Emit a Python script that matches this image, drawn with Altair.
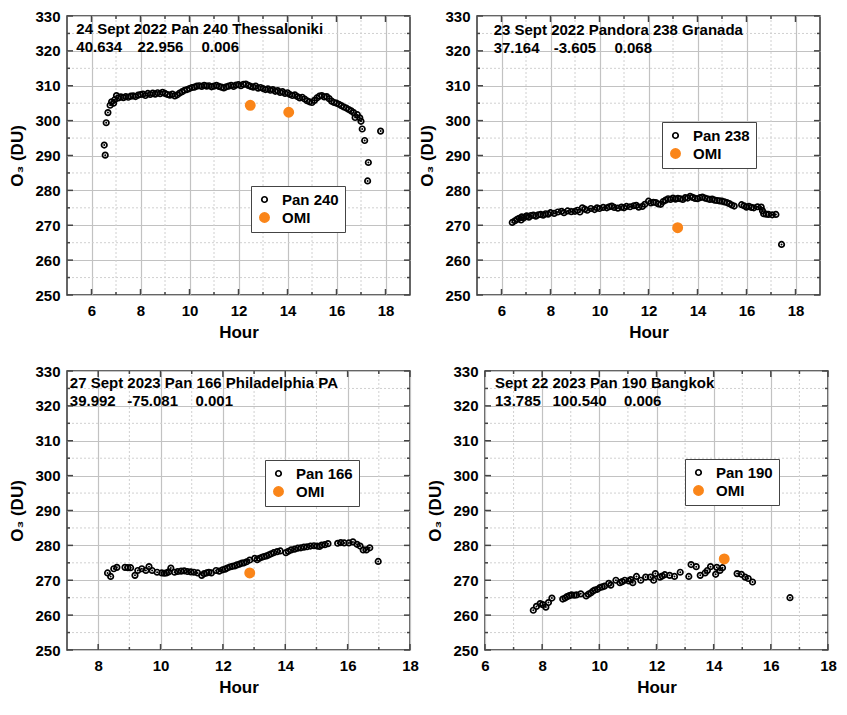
import altair as alt
import pandas as pd

FONT = "Liberation Sans, Arial, sans-serif"
ORANGE = "#fa8519"

# ---------------- data ----------------
y_major = [250, 260, 270, 280, 290, 300, 310, 320, 330]
y_minor = [255, 265, 275, 285, 295, 305, 315, 325]

# Panel 1: Thessaloniki
p1_title = "24 Sept 2022  Pan 240 Thessaloniki"
p1_info = ["40.634", "22.956", "0.006"]
p1_label = "Pan 240"
p1_hour = [6.52, 6.56, 6.60, 6.67, 6.76, 6.82, 6.90, 6.95, 7.02, 7.10, 7.20, 7.30, 7.40, 7.50,
           7.60, 7.70, 7.80, 7.90, 8.00, 8.10, 8.20, 8.30, 8.40, 8.50, 8.60, 8.70, 8.80, 8.90,
           9.00, 9.10, 9.20, 9.30, 9.40, 9.50, 9.60, 9.70, 9.80, 9.90, 10.00, 10.10, 10.20,
           10.30, 10.40, 10.50, 10.60, 10.70, 10.80, 10.90, 11.00, 11.10, 11.20, 11.30, 11.40,
           11.50, 11.60, 11.70, 11.80, 11.90, 12.00, 12.10, 12.20, 12.30, 12.40, 12.50, 12.60,
           12.70, 12.80, 12.90, 13.00, 13.10, 13.20, 13.30, 13.40, 13.50, 13.60, 13.70, 13.80,
           13.90, 14.00, 14.10, 14.20, 14.30, 14.40, 14.50, 14.60, 14.70, 14.80, 14.90, 15.00,
           15.10, 15.20, 15.30, 15.40, 15.50, 15.60, 15.70, 15.80, 15.90, 16.00, 16.10, 16.20,
           16.30, 16.40, 16.50, 16.60, 16.70, 16.76, 16.85, 16.95, 17.00, 17.05, 17.15, 17.27,
           17.30, 17.80]
p1_o3 = [293.0, 290.1, 299.4, 302.3, 304.4, 305.4, 305.0, 306.0, 307.2, 306.5, 306.8, 306.6,
         306.9, 306.7, 307.0, 307.1, 306.9, 307.3, 307.5, 307.6, 307.2, 307.8, 307.5, 307.9,
         307.6, 308.0, 307.7, 308.1, 307.8, 307.5, 307.3, 307.6, 307.1, 307.4, 307.9, 308.3,
         308.7, 308.9, 309.2, 309.5, 309.6, 309.9, 310.0, 309.8, 310.1, 309.9, 310.0, 309.7,
         309.9, 310.1, 309.8, 309.6, 309.4, 309.7, 309.9, 310.1, 309.8, 310.2, 310.3, 310.0,
         310.4, 310.5, 310.1, 309.8, 309.6, 309.9, 309.3, 309.5, 309.2, 308.9, 309.1, 308.7,
         308.9, 308.4, 308.6, 308.1, 308.3, 307.8, 308.0, 307.5, 307.2, 307.4, 306.9, 306.5,
         306.7, 306.2, 305.7, 305.4, 305.2, 305.8, 306.5, 307.0, 307.2, 306.8, 306.9, 306.3,
         305.6, 305.2, 305.0, 304.7, 304.3, 303.9, 303.6, 303.2, 302.8, 302.3, 300.9, 301.7,
         300.8, 299.8, 297.6, 294.3, 282.7, 288.0, 297.0]
p1_omi_hour = [12.48, 14.05]
p1_omi_o3 = [304.4, 302.4]

# Panel 2: Granada
p2_title = "23 Sept 2022 Pandora 238 Granada"
p2_info = ["37.164", "-3.605", "0.068"]
p2_label = "Pan 238"
p2_hour = [6.44, 6.55, 6.64, 6.72, 6.80, 6.83, 6.90, 7.00, 7.03, 7.12, 7.20, 7.30, 7.40, 7.50,
           7.60, 7.70, 7.80, 7.90, 8.00, 8.15, 8.30, 8.45, 8.55, 8.70, 8.85, 9.00, 9.10, 9.20,
           9.30, 9.40, 9.50, 9.65, 9.80, 9.90, 10.00, 10.15, 10.30, 10.40, 10.50, 10.60, 10.75,
           10.90, 11.00, 11.10, 11.25, 11.40, 11.50, 11.60, 11.75, 11.85, 12.00, 12.10, 12.20,
           12.30, 12.40, 12.50, 12.60, 12.70, 12.80, 12.90, 13.00, 13.10, 13.20, 13.30, 13.40,
           13.50, 13.60, 13.70, 13.80, 13.90, 14.00, 14.10, 14.20, 14.30, 14.40, 14.50, 14.60,
           14.70, 14.80, 14.90, 15.00, 15.10, 15.20, 15.30, 15.40, 15.50, 15.80, 15.90, 16.00,
           16.10, 16.20, 16.30, 16.45, 16.60, 16.65, 16.70, 16.80, 16.90, 17.05, 17.20, 17.43]
p2_o3 = [270.8, 271.3, 271.7, 272.0, 271.5, 272.4, 272.1, 272.5, 272.7, 272.3, 272.8, 272.9,
         272.6, 273.0, 273.1, 272.9, 273.3, 273.2, 273.6, 273.4, 273.8, 274.0, 273.6, 274.1,
         273.9, 274.0, 274.3, 273.8, 275.0, 274.6, 274.3, 274.8, 274.5, 275.0, 274.8, 275.1,
         275.0, 275.3, 275.5, 275.1, 274.9, 275.2, 275.0, 275.4, 275.3, 275.6, 275.7, 275.2,
         275.4, 276.0, 276.9, 276.4, 276.6, 276.5, 276.1, 276.0, 276.8, 277.2, 277.6, 277.4,
         277.8, 277.5, 277.7, 277.6, 277.4, 277.9, 277.8, 278.3, 278.0, 277.7, 277.6, 277.9,
         278.1, 277.8, 277.6, 277.4, 277.5, 277.2, 277.1, 277.0, 276.9, 276.7, 276.5, 276.2,
         275.8, 275.5, 275.9, 275.6, 275.2, 275.4, 275.1, 275.0, 275.3, 275.2, 274.2, 273.3,
         273.2, 273.1, 273.0, 273.1, 264.5]
p2_omi_hour = [13.19]
p2_omi_o3 = [269.3]

# Panel 3: Philadelphia
p3_title = "27 Sept 2023 Pan 166 Philadelphia PA"
p3_info = ["39.992", "-75.081", "0.001"]
p3_label = "Pan 166"
p3_hour = [8.30, 8.40, 8.50, 8.60, 8.86, 8.95, 9.04, 9.18, 9.27, 9.40, 9.53, 9.63, 9.73, 9.89,
           10.04, 10.12, 10.19, 10.26, 10.33, 10.45, 10.55, 10.66, 10.76, 10.86, 10.97, 11.07,
           11.19, 11.32, 11.40, 11.48, 11.55, 11.63, 11.78, 11.88, 11.99, 12.07, 12.14, 12.22,
           12.30, 12.38, 12.45, 12.53, 12.61, 12.68, 12.76, 12.86, 13.02, 13.10, 13.17, 13.25,
           13.32, 13.40, 13.48, 13.55, 13.63, 13.74, 13.84, 14.02, 14.10, 14.19, 14.30, 14.40,
           14.50, 14.60, 14.70, 14.81, 14.92, 15.02, 15.10, 15.17, 15.27, 15.37, 15.68, 15.78,
           15.89, 16.04, 16.17, 16.30, 16.40, 16.50, 16.60, 16.71, 16.98]
p3_o3 = [272.1, 271.1, 273.3, 273.7, 273.7, 273.6, 273.6, 271.4, 272.8, 273.3, 272.8, 273.9,
         272.8, 272.3, 272.1, 272.0, 272.1, 272.4, 273.5, 272.3, 272.5, 272.6, 272.7, 272.5,
         272.4, 272.3, 272.1, 271.4, 271.9, 272.1, 272.3, 272.1, 272.8, 272.6, 273.0, 273.2,
         273.5, 273.8, 274.0, 274.1, 274.4, 274.6, 274.9, 275.0, 275.3, 275.8, 276.3, 275.9,
         276.3, 276.6, 276.8, 277.0, 277.3, 277.6, 277.9, 278.2, 278.4, 277.9, 278.3, 278.7,
         278.9, 279.2, 279.3, 279.5, 279.6, 279.8, 279.9, 279.8, 279.7, 280.1, 280.2, 280.5,
         280.6, 280.8, 280.7, 280.7, 281.0, 280.3, 279.8, 278.7, 278.7, 279.3, 275.4]
p3_omi_hour = [12.86]
p3_omi_o3 = [272.1]

# Panel 4: Bangkok
p4_title = "Sept 22 2023 Pan 190 Bangkok"
p4_info = ["13.785", "100.540", "0.006"]
p4_label = "Pan 190"
p4_hour = [7.69, 7.80, 7.93, 8.02, 8.13, 8.22, 8.34, 8.72, 8.80, 8.87, 8.95, 9.03, 9.12, 9.20,
           9.35, 9.54, 9.62, 9.71, 9.78, 9.84, 9.93, 10.02, 10.10, 10.18, 10.33, 10.40, 10.58,
           10.72, 10.80, 10.89, 11.03, 11.10, 11.17, 11.30, 11.45, 11.62, 11.79, 11.90, 11.96,
           12.12, 12.20, 12.29, 12.46, 12.63, 12.83, 13.13, 13.21, 13.39, 13.53, 13.70, 13.78,
           13.89, 14.07, 14.11, 14.22, 14.31, 14.82, 14.97, 15.10, 15.21, 15.36, 16.67]
p4_o3 = [261.4, 262.5, 263.3, 263.0, 262.3, 263.6, 264.9, 264.6, 264.9, 265.3, 265.6, 265.8,
         265.7, 265.8, 266.1, 265.5, 266.0, 266.4, 266.9, 267.2, 267.4, 267.9, 268.1, 268.3,
         269.1, 268.6, 270.0, 269.3, 269.6, 270.0, 269.8, 270.2, 269.3, 271.1, 270.0, 270.9,
         270.9, 270.0, 271.9, 270.9, 271.2, 271.6, 271.4, 271.1, 272.3, 271.1, 274.5, 273.9,
         271.4, 272.1, 272.8, 273.9, 271.7, 273.7, 272.8, 273.6, 271.9, 271.7, 270.9, 270.5,
         269.5, 265.0]
p4_omi_hour = [14.37]
p4_omi_o3 = [276.1]


def panel(hours, o3, omi_h, omi_v, label, title, info, xdom, xmajor, xminor, width, height,
          tx, ty, legend_xy):
    xs = alt.Scale(domain=xdom, nice=False, zero=False)
    ys = alt.Scale(domain=[250, 330], nice=False, zero=False)
    xax = alt.Axis(values=xmajor, title="Hour", format="d", labelPadding=8, titlePadding=6,
                   grid=True, ticks=False, tickSize=0, domain=False, labelFlush=False)
    yax = alt.Axis(values=y_major, title="O₃ (DU)", format="d", labelPadding=7, titlePadding=8,
                   grid=True, ticks=False, tickSize=0, domain=False)

    def X(f):
        return alt.X(f, type="quantitative", scale=xs, axis=xax)

    def Y(f):
        return alt.Y(f, type="quantitative", scale=ys, axis=yax)

    pts = pd.DataFrame({
        "hour": list(hours) + list(omi_h),
        "o3": list(o3) + list(omi_v),
        "series": [label] * len(hours) + ["OMI"] * len(omi_h),
    })
    pan = pd.DataFrame({"hour": hours, "o3": o3})

    vminor = alt.Chart(pd.DataFrame({"h": xminor})).mark_rule(
        color="#d0d0d0", strokeDash=[2, 2], strokeWidth=1).encode(x=X("h"))
    hminor = alt.Chart(pd.DataFrame({"v": y_minor})).mark_rule(
        color="#d0d0d0", strokeDash=[2, 2], strokeWidth=1).encode(y=Y("v"))

    dom = [label, "OMI"]
    leg = alt.Legend(title=None, orient="none", legendX=legend_xy[0], legendY=legend_xy[1],
                     padding=6, strokeColor="#444444", fillColor="white",
                     labelFont=FONT, labelFontSize=15, labelFontWeight="bold", labelColor="black",
                     labelOffset=10, rowPadding=1, symbolStrokeWidth=1.7, symbolType="circle")
    points = alt.Chart(pts).mark_point(shape="circle", strokeWidth=1.7, opacity=1).encode(
        x=X("hour"), y=Y("o3"),
        stroke=alt.Stroke("series:N", scale=alt.Scale(domain=dom, range=["black", ORANGE]), legend=leg),
        fill=alt.Fill("series:N", scale=alt.Scale(domain=dom, range=["transparent", ORANGE]), legend=leg),
        size=alt.Size("series:N", scale=alt.Scale(domain=dom, range=[30, 85]), legend=leg),
    )
    dots = alt.Chart(pan).mark_circle(size=4, color="black", opacity=1).encode(x=X("hour"), y=Y("o3"))

    # inward tick marks on all four sides (lengths in pixels converted to data units)
    ppy = 80.0 / height
    ppx = (xdom[1] - xdom[0]) / width
    rows_x = []
    for vals, ln in ((xmajor, 6), (xminor, 3)):
        for h in vals:
            rows_x.append({"h": h, "a": 250, "b": 250 + ln * ppy})
            rows_x.append({"h": h, "a": 330, "b": 330 - ln * ppy})
    rows_y = []
    for vals, ln in ((y_major, 6), (y_minor, 3)):
        for v in vals:
            rows_y.append({"v": v, "a": xdom[0], "b": xdom[0] + ln * ppx})
            rows_y.append({"v": v, "a": xdom[1], "b": xdom[1] - ln * ppx})
    tx_ticks = alt.Chart(pd.DataFrame(rows_x)).mark_rule(color="#444444", strokeWidth=1.5).encode(
        x=X("h"), y=Y("a"), y2="b")
    ty_ticks = alt.Chart(pd.DataFrame(rows_y)).mark_rule(color="#444444", strokeWidth=1.5).encode(
        y=Y("v"), x=X("a"), x2="b")

    txt = pd.DataFrame({
        "tx": [tx[0], tx[0], tx[1], tx[2]],
        "ty": [ty[0], ty[1], ty[1], ty[1]],
        "label": [title] + list(info),
    })
    text = alt.Chart(txt).mark_text(align="left", baseline="alphabetic", font=FONT, fontSize=15,
                                    fontWeight="bold", color="black").encode(
        x=X("tx"), y=Y("ty"), text="label:N")

    return alt.layer(vminor, hminor, points, dots, tx_ticks, ty_ticks, text).properties(
        width=width, height=height)


H = 279
W = 343
c1 = panel(p1_hour, p1_o3, p1_omi_hour, p1_omi_o3, p1_label, p1_title, p1_info,
           [5, 19], [6, 8, 10, 12, 14, 16, 18], [7, 9, 11, 13, 15, 17], W, H,
           [5.38, 7.88, 10.49], [324.9, 319.75], (184, 170))
c2 = panel(p2_hour, p2_o3, p2_omi_hour, p2_omi_o3, p2_label, p2_title, p2_info,
           [5, 19], [6, 8, 10, 12, 14, 16, 18], [7, 9, 11, 13, 15, 17], W, H,
           [5.68, 8.13, 10.61], [324.45, 319.3], (185, 106))
c3 = panel(p3_hour, p3_o3, p3_omi_hour, p3_omi_o3, p3_label, p3_title, p3_info,
           [7, 18], [8, 10, 12, 14, 16, 18], [9, 11, 13, 15, 17], W, H,
           [7.09, 8.93, 11.12], [325.1, 320.0], (198, 89))
c4 = panel(p4_hour, p4_o3, p4_omi_hour, p4_omi_o3, p4_label, p4_title, p4_info,
           [6, 18], [6, 8, 10, 12, 14, 16, 18], [7, 9, 11, 13, 15, 17], W, H,
           [6.35, 8.36, 10.86], [325.1, 320.0], (200, 88))

ind = dict(stroke="independent", fill="independent", size="independent")
row1 = alt.hconcat(c1, c2, spacing=6).resolve_scale(**ind).resolve_legend(**ind)
row2 = alt.hconcat(c3, c4, spacing=6).resolve_scale(**ind).resolve_legend(**ind)

chart = alt.vconcat(row1, row2, spacing=22).resolve_scale(**ind).resolve_legend(**ind).configure(
    font=FONT, padding={"left": 0, "top": 0, "right": 0, "bottom": 0}
).configure_view(
    stroke="#333333", strokeWidth=1.5
).configure_axis(
    labelFont=FONT, labelFontSize=15, labelFontWeight="bold", labelColor="black",
    titleFont=FONT, titleFontSize=17, titleFontWeight="bold", titleColor="black",
    gridColor="#c2c2c2", gridWidth=1.2
)

chart.save("out.html", embed_options={"renderer": "svg", "actions": False})
